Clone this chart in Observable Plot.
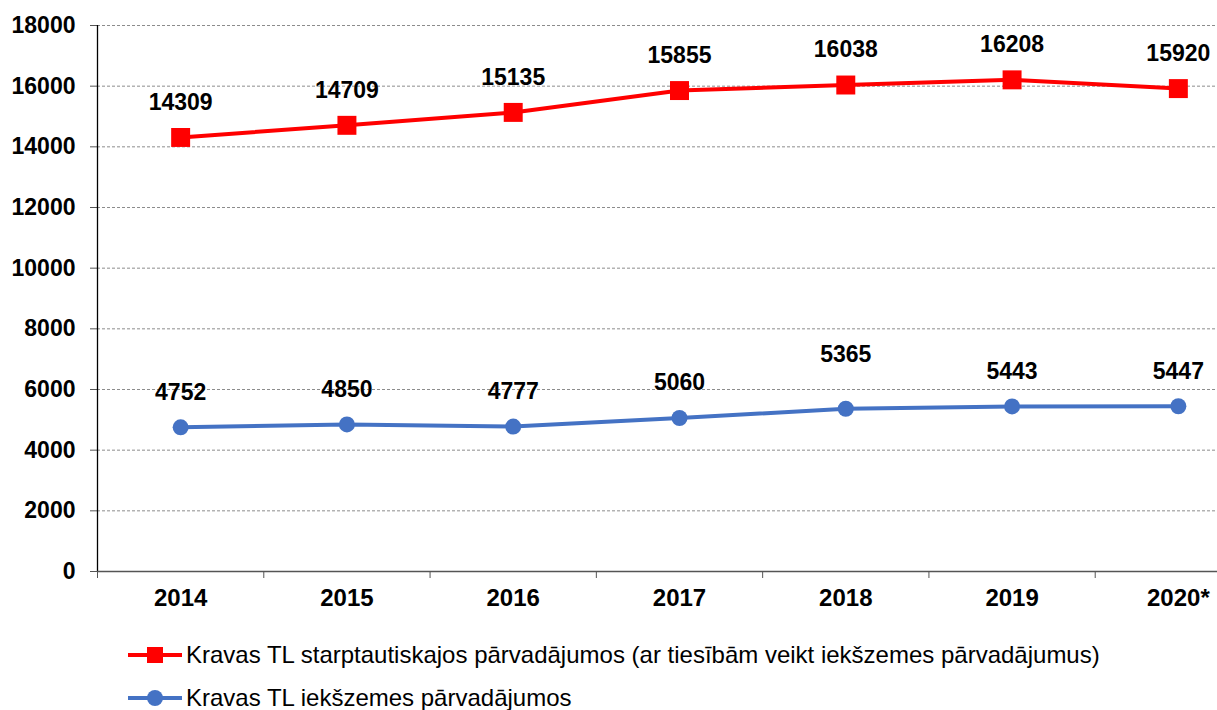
<!DOCTYPE html>
<html><head><meta charset="utf-8">
<script src="https://cdn.jsdelivr.net/npm/d3@7"></script>
<script src="https://cdn.jsdelivr.net/npm/@observablehq/plot@0.6"></script>
<style>
body{margin:0;background:#fff;font-family:"Liberation Sans",Arial,sans-serif;}
#chart svg{display:block;overflow:hidden;}
.legrow{position:absolute;left:128px;display:flex;align-items:center;font-size:24px;color:#000;white-space:nowrap;}
.legrow svg{display:block;margin-right:4px;}
</style></head><body>
<div id="chart"></div>
<div id="legend"></div>
<script>
const years = [2014, 2015, 2016, 2017, 2018, 2019, 2020];
const yearLabels = ["2014", "2015", "2016", "2017", "2018", "2019", "2020*"];
const intl = [14309, 14709, 15135, 15855, 16038, 16208, 15920];
const domestic = [4752, 4850, 4777, 5060, 5365, 5443, 5447];
const seriesNames = [
  "Kravas TL starptautiskajos pārvadājumos (ar tiesībām veikt iekšzemes pārvadājumus)",
  "Kravas TL iekšzemes pārvadājumos"
];
const seriesColors = ["#FF0000", "#4472C4"];
const seriesSymbols = ["square", "circle"];
const yTicks = [0, 2000, 4000, 6000, 8000, 10000, 12000, 14000, 16000, 18000];

const boundaries = [years[0] - 0.5, ...years.map(y => y + 0.5)];
const data = [
  ...years.map((y, i) => ({year: y, value: intl[i], series: seriesNames[0]})),
  ...years.map((y, i) => ({year: y, value: domestic[i], series: seriesNames[1]}))
];
const dIntl = data.filter(d => d.series === seriesNames[0]);
const dDom = data.filter(d => d.series === seriesNames[1]);
const raised = d => d.series === seriesNames[1] && d.year === 2018;

const W = 1217, H = 625;
const chart = Plot.plot({
  width: W, height: H,
  marginLeft: 97, marginRight: 0, marginTop: 25, marginBottom: 54,
  style: {fontFamily: '"Liberation Sans", Arial, sans-serif', background: "#fff", color: "#000"},
  x: {type: "linear", domain: [boundaries[0], boundaries[boundaries.length - 1]], range: [97, 1261]},
  y: {domain: [0, 18000]},
  color: {domain: seriesNames, range: seriesColors},
  marks: [
    Plot.gridY(yTicks.filter(d => d > 0), {stroke: "#8c8c8c", strokeOpacity: 1, strokeDasharray: "3,2", strokeWidth: 1}),
    Plot.axisY(yTicks, {tickSize: 7, tickPadding: 15, fontSize: 23, fontWeight: "bold", stroke: "#555", label: null, tickFormat: d => String(d)}),
    Plot.axisX(boundaries, {tickSize: 7, tickFormat: () => "", stroke: "#555", label: null}),
    Plot.axisX(years, {tickSize: 0, tickPadding: 17, fontSize: 24, fontWeight: "bold", label: null, tickFormat: (d) => yearLabels[years.indexOf(d)]}),
    Plot.ruleX([boundaries[0]], {stroke: "#000", strokeWidth: 1.3}),
    Plot.ruleY([0], {stroke: "#555", strokeWidth: 1.3}),
    Plot.line(data, {x: "year", y: "value", z: "series", stroke: "series", strokeWidth: 4}),
    Plot.dot(dIntl, {x: "year", y: "value", symbol: "square", r: 10.7, fill: seriesColors[0], stroke: "none"}),
    Plot.dot(dDom, {x: "year", y: "value", symbol: "circle", r: 8, fill: seriesColors[1], stroke: "none"}),
    Plot.text(data.filter(d => !raised(d)), {x: "year", y: "value", text: d => String(d.value), dy: -35, fontSize: 23, fontWeight: "bold", fill: "#000"}),
    Plot.text(data.filter(raised), {x: "year", y: "value", text: d => String(d.value), dy: -54, fontSize: 23, fontWeight: "bold", fill: "#000"})
  ]
});
document.getElementById("chart").appendChild(chart);

const legend = d3.select("#legend");
const rowY = [655, 698];
seriesNames.forEach((name, i) => {
  const row = legend.append("div").attr("class", "legrow").style("top", (rowY[i] - 14) + "px").style("height", "28px");
  const s = row.append("svg").attr("width", 54).attr("height", 28);
  s.append("line").attr("x1", 0).attr("x2", 54).attr("y1", 14).attr("y2", 14).attr("stroke", seriesColors[i]).attr("stroke-width", 4);
  s.append("path").attr("transform", "translate(27,14)")
    .attr("d", d3.symbol(seriesSymbols[i] === "square" ? d3.symbolSquare : d3.symbolCircle, seriesSymbols[i] === "square" ? 256 : 201)())
    .attr("fill", seriesColors[i]);
  row.append("span").text(name);
});
</script>
</body></html>
